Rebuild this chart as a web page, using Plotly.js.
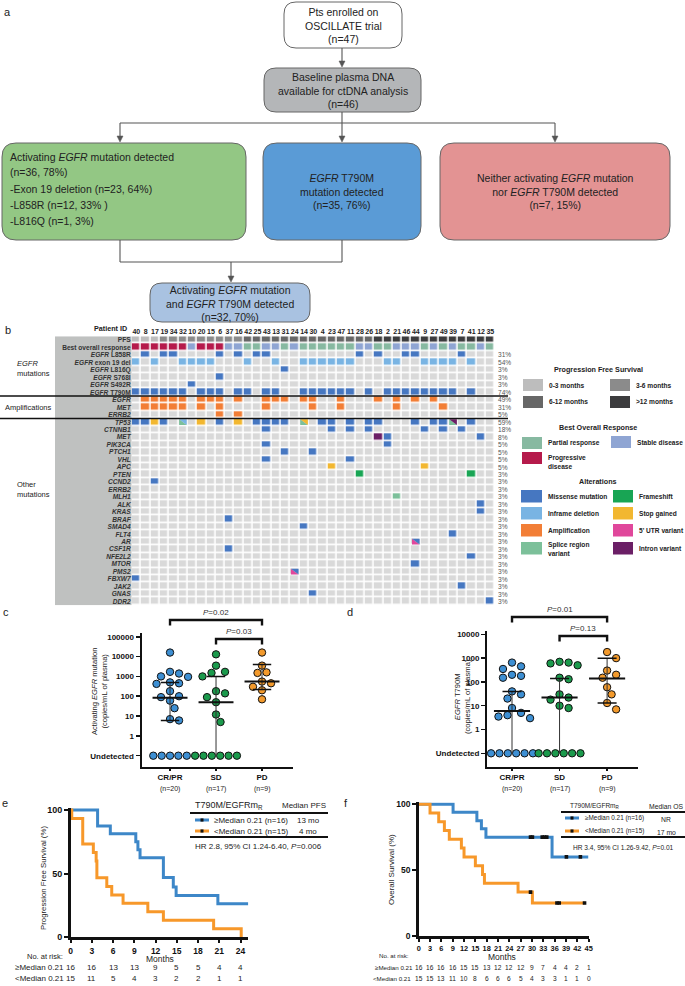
<!DOCTYPE html>
<html><head><meta charset="utf-8">
<script src="https://cdn.plot.ly/plotly-3.0.1.min.js"></script>
<style>html,body{margin:0;padding:0;background:#fff}</style>
</head><body><div id="chart" style="width:685px;height:986px"></div>
<script>
// ================= DATA =================
// --- panel a: flowchart texts ---
const flowBox1 = ["Pts enrolled on", "OSCILLATE trial", "(n=47)"];
const flowBox2 = ["Baseline plasma DNA", "available for ctDNA analysis", "(n=46)"];
const flowBox3 = ["Activating <i>EGFR</i> mutation detected", "(n=36, 78%)", "-Exon 19 deletion (n=23, 64%)", "-L858R (n=12, 33% )", "-L816Q (n=1, 3%)"];
const flowBox4 = ["<i>EGFR</i> T790M", "mutation detected", "(n=35, 76%)"];
const flowBox5 = ["Neither activating <i>EGFR</i> mutation", "nor <i>EGFR</i> T790M detected", "(n=7, 15%)"];
const flowBox6 = ["Activating <i>EGFR</i> mutation", "and <i>EGFR</i> T790M detected", "(n=32, 70%)"];

// --- panel b: oncoprint ---
const patientIds = [40,8,17,19,34,32,10,20,15,6,37,16,42,25,43,13,31,24,14,30,4,23,47,11,28,26,18,2,21,46,44,9,27,49,39,7,41,12,35];
const pfs0to3 = [40,8,17];
const pfs3to6 = [19,34,32,10,20,15,6,37,16];
const pfs6to12 = [42,25,43,13,31,24,14,30,4,23,47,11,28,26];
const pfsOver12 = [18,2,21,46,44,9,27,49,39,7,41,12,35];
const borPD = [40,8,17,19,34,32,20,15,6];
const borSD = [10,37,16,43,13,24,28,26,21,46,44,27,39,12];
const borPR = [42,25,31,14,30,4,23,47,11,18,2,9,49,7,41,35];

const egfrMutRows = ["L858R","exon 19 del","L816Q","S768I","S492R","T790M"];
const egfrMutTypes = ["missense","inframe","missense","missense","missense","missense"];
const egfrL858R = [8,19,34,6,16,25,43,28,18,46,44,7];
const egfrExon19 = [40,17,32,10,20,15,42,13,14,30,4,23,47,11,2,21,9,27,49,39,41];
const egfrL816Q = [31];
const egfrS768I = [6];
const egfrS492R = [10];
const egfrT790M = [40,8,17,19,34,32,20,15,6,16,42,43,13,14,30,4,23,47,11,26,2,21,46,44,9,27,49,39,41];

const ampRows = ["EGFR","MET","ERRB2"];
const ampEGFR = [8,17,19,34,32,20,15,6,16,43,13,31,14,30,47,18,21,44,27];
const ampMET = [8,17,19,34,32,20,6,43,30,47,21,49];
const ampERRB2 = [6,16];

const otherRows = ["TP53","CTNNB1","MET","PIK3CA","PTCH1","VHL","APC","PTEN","CCND2","ERRB2","MLH1","ALK","KRAS","BRAF","SMAD4","FLT4","AR","CSF1R","NFE2L2","MTOR","PMS2","FBXW7","JAK2","GNAS","DDR2"];
const otherMissense = [
  [40,8,19,6,25,43,13,31,4,23,11,26,18,44,27,49,41], // TP53
  [43,23,11,26,9,49,7],  // CTNNB1
  [2,12],                // MET
  [43,2],                // PIK3CA
  [31,30],               // PTCH1
  [43,11],               // VHL
  [], [],                // APC, PTEN
  [17],                  // CCND2
  [], [],                // ERRB2, MLH1
  [12], [12], [37], [14], [39], // ALK KRAS BRAF SMAD4 FLT4
  [],                    // AR
  [37], [41], [44],      // CSF1R NFE2L2 MTOR
  [],                    // PMS2
  [40], [7], [30], [35]  // FBXW7 JAK2 GNAS DDR2
];
const stopGained = [["TP53",17],["TP53",20],["TP53",16],["APC",23],["APC",9]];
const frameshift = [["PTEN",28],["PTEN",41]];
const spliceRegion = [["MLH1",21]];
const intronVariant = [["MET",18]];
const splitCells = [["TP53",32,"splice","inframe"],["TP53",14,"splice","stop"],["TP53",39,"splice","intron"],["AR",44,"utr","missense"],["PMS2",24,"utr","missense"]];
const percentLabels = ["31%","54%","3%","3%","3%","74%","49%","31%","5%","59%","18%","8%","5%","5%","5%","5%","3%",
  "3%","3%","3%","3%","3%","3%","3%","3%","3%","3%","3%","3%","3%","3%","3%","3%","3%"];

const pfsLegendLabels = ["0-3 months","3-6 months","6-12 months",">12 months"];
const borLegendLabels = ["Partial response","Stable disease","Progressive<br>disease"];
const altLegendLeft = ["Missense mutation","Inframe deletion","Amplification","Splice region<br>variant"];
const altLegendRight = ["Frameshift","Stop gained","5' UTR variant","Intron variant"];

// --- panels c, d (0 = undetected) ---
const groups = ["CR/PR","SD","PD"];
const groupN = ["(n=20)","(n=17)","(n=9)"];
const cCRPR = [16000,1700,1400,1000,950,500,450,420,180,100,90,60,25,7,6,0,0,0,0,0];
const cSD = [13000,3500,1700,1500,1000,180,140,90,50,12,5,0,0,0,0,0,0];
const cPD = [16000,3500,1600,1500,550,450,300,200,70];
const cMedian = [85,50,550], cQ1 = [6,0,220], cQ3 = [500,1000,4000];
const dCRPR = [650,450,350,200,180,150,40,30,20,8,5,4,3.5,3,0,0,0,0,0,0];
const dSD = [700,650,600,500,150,130,30,22,18,10,8,0,0,0,0,0,0];
const dPD = [1800,1000,300,200,150,60,30,13,7];
const dMedian = [6,22,140], dQ1 = [0,0,13], dQ3 = [40,140,1000];
const cTickVals = [0.1,1,10,100,1000,10000,100000];
const cTickText = ["Undetected","1","10","100","1000","10000","100000"];
const dTickVals = [0.1,1,10,100,1000,10000];
const dTickText = ["Undetected","1","10","100","1000","10000"];

// --- panels e, f (Kaplan-Meier) ---
const pfsHighT = [0,3.8,5.6,9.2,9.5,9.8,13.1,14.5,14.9,20.8,25.1];
const pfsHighS = [100,87.5,81.3,75,68.8,62.5,46.9,39.5,32.8,26.4,26.4];
const pfsLowT = [0,0.15,1.7,3.2,3.6,3.7,5.1,5.8,7.4,10.9,13.1,20.2,24.1];
const pfsLowS = [100,93.3,73.3,66.7,60,46.7,40,33.3,26.7,20,13.3,6.7,0];
const osHighT = [0,9.1,15.4,16.6,17.8,35.3,44.9];
const osHighS = [100,93.8,87.5,81.3,75,60,60];
const osLowT = [0,3.0,5.3,6.8,8.1,11.3,12.0,15.0,16.9,17.4,26.3,30.1,43.9];
const osLowS = [100,93.3,86.7,80,73.3,66.7,60,53.3,46.7,40,33.3,25,25];
const osHighCensT = [29.6,30.1,32.7,33.3,33.9,39.1,42.8];
const osHighCensS = [75,75,75,75,75,60,60];
const osLowCensT = [29.6,36.6,37.2,43.9];
const osLowCensS = [33.3,25,25,25];
const pfsTicks = [0,3,6,9,12,15,18,21,24];
const osTicks = [0,3,6,9,12,15,18,21,24,27,30,33,36,39,42,45];
const pfsRiskHigh = [16,16,13,13,9,5,5,4,4];
const pfsRiskLow = [15,11,5,4,3,2,2,1,1];
const osRiskHigh = [16,16,16,16,15,15,13,12,12,12,9,7,4,4,2,1];
const osRiskLow = [15,15,13,11,10,8,6,6,6,5,4,3,3,1,1,0];
const kmLegendRows = ["\u2265Median 0.21 (n=16)","<Median 0.21 (n=15)"];
const pfsMedians = ["13 mo","4 mo"];
const osMedians = ["NR","17 mo"];

// ================= DRAWING =================
const W = 685, H = 986;
const X = p => p / W, Y = p => 1 - p / H;
const FONT = 'Arial, "Liberation Sans", Helvetica, sans-serif';
const shapes = [], annotations = [], traces = [];

function A(x, y, text, size, o) {
  o = o || {};
  const a = {xref:'paper', yref:'paper', x:X(x), y:Y(y), text:text, showarrow:false,
    font:{family:FONT, size:size, color:o.color || '#222'},
    xanchor:o.xa || 'center', yanchor:o.ya || 'middle', align:o.align || 'center'};
  if (o.angle !== undefined) a.textangle = o.angle;
  if (o.xref) { a.xref = o.xref; a.x = o.x; }
  annotations.push(a);
}
function R(x0, y0, x1, y1, fill, lc, lw, layer) {
  shapes.push({type:'rect', xref:'paper', yref:'paper', x0:X(x0), x1:X(x1), y0:Y(y0), y1:Y(y1),
    fillcolor:fill, line:{color:lc || fill, width:lw || 0}, layer:layer || 'above'});
}
function L(x0, y0, x1, y1, c, w, dash) {
  shapes.push({type:'line', xref:'paper', yref:'paper', x0:X(x0), x1:X(x1), y0:Y(y0), y1:Y(y1),
    line:{color:c, width:w, dash:dash || 'solid'}});
}
function RR(x0, y0, x1, y1, r, fill, lc) {
  const rx = r / W, ry = r / H, a = X(x0), b = X(x1), t = Y(y0), u = Y(y1);
  const p = `M ${a+rx},${t} L ${b-rx},${t} Q ${b},${t} ${b},${t-ry} L ${b},${u+ry} Q ${b},${u} ${b-rx},${u} L ${a+rx},${u} Q ${a},${u} ${a},${u+ry} L ${a},${t-ry} Q ${a},${t} ${a+rx},${t} Z`;
  shapes.push({type:'path', xref:'paper', yref:'paper', path:p, fillcolor:fill, line:{color:lc, width:1}});
}
function arrow(x, yHead, len) {
  L(x, yHead - len, x, yHead - 5, '#555', 1.1);
  shapes.push({type:'path', xref:'paper', yref:'paper',
    path:`M ${X(x - 3)},${Y(yHead - 6)} L ${X(x + 3)},${Y(yHead - 6)} L ${X(x)},${Y(yHead)} Z`,
    fillcolor:'#555', line:{color:'#555', width:0.5}});
}

// ---- panel a ----
A(8, 12, 'a', 11);
RR(284, 2, 402, 48, 12, '#ffffff', '#666');
RR(264, 68, 421, 112, 12, '#b4b6b8', '#666');
RR(2, 143, 246, 240, 14, '#93c784', '#666');
RR(263, 143, 421, 240, 14, '#5a9bd6', '#666');
RR(440, 143, 670, 240, 14, '#e39393', '#666');
RR(150, 283, 310, 322, 12, '#a9c2e1', '#666');
A(343, 25.5, flowBox1.join('<br>'), 10.5);
A(343, 90, flowBox2.join('<br>'), 10.5);
[157, 172, 189, 205, 221].forEach((yy, i) => A(8, yy, flowBox3[i], 10.5, {xa:'left'}));
A(342, 191.5, flowBox4.join('<br>'), 10.5);
A(555, 191.5, flowBox5.join('<br>'), 10.5);
A(230, 303, flowBox6.join('<br>'), 10.5);
arrow(342, 67, 19);
L(342, 112, 342, 123, '#555', 1.1);
L(120, 123, 555, 123, '#555', 1.1);
arrow(120, 142, 19); arrow(342, 142, 19); arrow(555, 142, 19);
L(120, 240, 120, 262, '#555', 1.1);
L(342, 240, 342, 262, '#555', 1.1);
L(120, 262, 342, 262, '#555', 1.1);
arrow(231, 282, 20);

// ---- panel b ----
A(8, 330, 'b', 11);
const codeColors = ['#d9d9d9','#bdbdbd','#8b8b8b','#676767','#3c3c3e','#87b9a1','#8fa5d3','#b51a4b',
  '#4677c1','#79b4e3','#f27e36','#7cc09a','#18a554','#f2b730','#e0479b','#6b1f66'];
const code = {none:0,pfs03:1,pfs36:2,pfs612:3,pfs12:4,pr:5,sd:6,pd:7,missense:8,inframe:9,amp:10,splice:11,frameshift:12,stop:13,utr:14,intron:15};
const nCols = patientIds.length;
const nRows = 2 + egfrMutRows.length + ampRows.length + otherRows.length;
const col = id => patientIds.indexOf(id);
const z = [];
for (let r = 0; r < nRows; r++) z.push(new Array(nCols).fill(0));
const setCells = (r, ids, c) => ids.forEach(id => { z[r][col(id)] = c; });
setCells(0, pfs0to3, code.pfs03); setCells(0, pfs3to6, code.pfs36);
setCells(0, pfs6to12, code.pfs612); setCells(0, pfsOver12, code.pfs12);
setCells(1, borPR, code.pr); setCells(1, borSD, code.sd); setCells(1, borPD, code.pd);
[egfrL858R, egfrExon19, egfrL816Q, egfrS768I, egfrS492R, egfrT790M].forEach((ids, i) => setCells(2 + i, ids, code[egfrMutTypes[i]]));
[ampEGFR, ampMET, ampERRB2].forEach((ids, i) => setCells(8 + i, ids, code.amp));
const oRow = g => 11 + otherRows.indexOf(g);
otherMissense.forEach((ids, i) => setCells(11 + i, ids, code.missense));
stopGained.forEach(([g, id]) => { z[oRow(g)][col(id)] = code.stop; });
frameshift.forEach(([g, id]) => { z[oRow(g)][col(id)] = code.frameshift; });
spliceRegion.forEach(([g, id]) => { z[oRow(g)][col(id)] = code.splice; });
intronVariant.forEach(([g, id]) => { z[oRow(g)][col(id)] = code.intron; });

const cs = [];
codeColors.forEach((c, i) => { cs.push([i / 16, c]); cs.push([(i + 1) / 16, c]); });
traces.push({type:'heatmap', z:z, x:[...Array(nCols).keys()], y:[...Array(nRows).keys()],
  colorscale:cs, zmin:-0.5, zmax:15.5, showscale:false, xgap:1.6, ygap:1.6, hoverinfo:'skip', xaxis:'x', yaxis:'y'});

// split cells as two triangles in data coordinates
const gx = 0.09, gy = 0.11;
splitCells.forEach(([g, id, lo, up]) => {
  const r = oRow(g), c = col(id);
  const x0 = c - 0.5 + gx, x1 = c + 0.5 - gx, yt = r - 0.5 + gy, yb = r + 0.5 - gy;
  shapes.push({type:'path', xref:'x', yref:'y', path:`M ${x0},${yt} L ${x0},${yb} L ${x1},${yb} Z`, fillcolor:codeColors[code[lo]], line:{width:0}});
  shapes.push({type:'path', xref:'x', yref:'y', path:`M ${x0},${yt} L ${x1},${yt} L ${x1},${yb} Z`, fillcolor:codeColors[code[up]], line:{width:0}});
});

const rowHtml = ['<b>PFS</b>', '<b>Best overall response</b>']
  .concat(egfrMutRows.map(s => '<b><i>EGFR</i> ' + s + '</b>'))
  .concat(ampRows.map(s => '<b><i>' + s + '</i></b>'))
  .concat(otherRows.map(s => '<b><i>' + s + '</i></b>'));

// gray label column
shapes.push({type:'rect', xref:'paper', yref:'y', x0:X(55), x1:X(131.5), y0:-0.5, y1:nRows - 0.5, fillcolor:'#bfc1c0', line:{width:0}, layer:'below'});
// separator lines
[7.5, 10.5].forEach(yy => shapes.push({type:'line', xref:'paper', yref:'y', x0:0, x1:X(508), y0:yy, y1:yy, line:{color:'#111', width:1.4}}));
// percentages
percentLabels.forEach((p, i) => annotations.push({xref:'paper', yref:'y', x:X(496), y:2 + i, text:p, showarrow:false,
  xanchor:'left', yanchor:'middle', font:{family:FONT, size:6.6, color:'#555'}}));
A(129, 328, '<b>Patient ID</b>', 7.2, {xa:'right'});
A(15, 369, '<i>EGFR</i><br>mutations', 7.5, {xa:'left', align:'left'});
A(3, 407, 'Amplifications', 7.5, {xa:'left'});
A(15, 489, 'Other<br>mutations', 7.5, {xa:'left', align:'left'});

// legend panel b
const LF = 6.6;
A(598, 370, '<b>Progression Free Survival</b>', 7.2);
[[523,379,0],[610,379,1],[523,396,2],[610,396,3]].forEach(([x, y, i]) => {
  R(x, y, x + 20, y + 12, codeColors[1 + i]);
  A(x + 24, y + 6, '<b>' + pfsLegendLabels[i] + '</b>', LF, {xa:'left'});
});
A(598, 428, '<b>Best Overall Response</b>', 7.2);
[[522,437,code.pr],[611,436,code.sd],[522,452,code.pd]].forEach(([x, y, c], i) => {
  R(x, y, x + 20, y + 12, codeColors[c]);
  A(x + 24, i === 2 ? y + 10 : y + 6, '<b>' + borLegendLabels[i] + '</b>', LF, {xa:'left', align:'left'});
});
A(598, 481, '<b>Alterations</b>', 7.2);
const altLeftCodes = [code.missense, code.inframe, code.amp, code.splice];
const altRightCodes = [code.frameshift, code.stop, code.utr, code.intron];
[490, 507, 524, 542].forEach((y, i) => {
  R(521, y, 542, y + 12.5, codeColors[altLeftCodes[i]]);
  A(546, y + 6.5, '<b>' + altLegendLeft[i] + '</b>', LF, {xa:'left', align:'left'});
  R(613, y, 633, y + 12.5, codeColors[altRightCodes[i]]);
  A(637, y + 6.5, '<b>' + altLegendRight[i] + '</b>', LF, {xa:'left', align:'left'});
});

// ---- panels c, d ----
const dotColors = ['#3d8fd3', '#1b9a4c', '#f39a2c'];
function swarm(vals, g, pxX, pxDec, diam) {
  const det = vals.filter(v => v > 0).sort((a, b) => b - a);
  const nU = vals.length - det.length;
  const pts = [], xs = [], ys = [];
  det.forEach(v => {
    const yp = Math.log10(v) * pxDec;
    let chosen = 0;
    for (let k = 0; k < 40; k++) {
      const m = Math.ceil(k / 2) * (k % 2 ? 1 : -1);
      const off = m * diam * 0.55;
      if (pts.every(p => Math.hypot(p[0] - off, p[1] - yp) >= diam * 0.98)) { chosen = off; break; }
    }
    pts.push([chosen, yp]); xs.push(g + chosen / pxX); ys.push(v);
  });
  for (let i = 0; i < nU; i++) { xs.push(g + (i - (nU - 1) / 2) * diam * 1.02 / pxX); ys.push(0.1); }
  return {xs, ys};
}
function dotPanel(sets, med, q1, q3, xa, ya, pxX, pxDec) {
  sets.forEach((vals, g) => {
    const s = swarm(vals, g, pxX, pxDec, 8.2);
    traces.push({type:'scatter', mode:'markers', x:s.xs, y:s.ys, xaxis:xa, yaxis:ya, cliponaxis:false,
      marker:{size:7.4, color:dotColors[g], line:{color:'#111', width:1}}, hoverinfo:'skip'});
  });
  sets.forEach((vals, g) => {
    const lo = q1[g] > 0 ? q1[g] : 0.1;
    traces.push({type:'scatter', mode:'lines', x:[g, g], y:[lo, q3[g]], xaxis:xa, yaxis:ya, line:{color:'#333', width:1}, hoverinfo:'skip'});
    traces.push({type:'scatter', mode:'lines', x:[g - 0.2, g + 0.2], y:[q3[g], q3[g]], xaxis:xa, yaxis:ya, line:{color:'#111', width:1.5}, hoverinfo:'skip'});
    if (q1[g] > 0) traces.push({type:'scatter', mode:'lines', x:[g - 0.2, g + 0.2], y:[q1[g], q1[g]], xaxis:xa, yaxis:ya, line:{color:'#111', width:1.5}, hoverinfo:'skip'});
    traces.push({type:'scatter', mode:'lines', x:[g - 0.38, g + 0.38], y:[med[g], med[g]], xaxis:xa, yaxis:ya, line:{color:'#111', width:2}, hoverinfo:'skip'});
  });
}
dotPanel([cCRPR, cSD, cPD], cMedian, cQ1, cQ3, 'x2', 'y2', 46, 19.8);
dotPanel([dCRPR, dSD, dPD], dMedian, dQ1, dQ3, 'x3', 'y3', 47.5, 23.8);
['x2', 'x3'].forEach((xa, k) => {
  shapes.push({type:'line', xref:xa + ' domain', yref:k ? 'y3' : 'y2', x0:0, x1:1, y0:-1, y1:-1, line:{color:'#111', width:1.4, dash:'dot'}, layer:'below'});
  groupN.forEach((t, g) => A(0, 789, t, 7, {xref:xa, x:g}));
});
function bracket(xa, g0, g1, yPx, label) {
  shapes.push({type:'path', xref:xa, yref:'paper', path:`M ${g0},${Y(yPx + 5.5)} L ${g0},${Y(yPx)} L ${g1},${Y(yPx)} L ${g1},${Y(yPx + 5.5)}`, line:{color:'#111', width:2.4}});
  A(0, yPx - 8, '<i>P</i>=' + label, 8, {xref:xa, x:(g0 + g1) / 2, color:'#333'});
}
bracket('x2', 0, 2, 620, '0.02');
bracket('x2', 1, 2, 639, '0.03');
bracket('x3', 0, 2, 617, '0.01');
bracket('x3', 1, 2, 636, '0.13');
A(6, 612, 'c', 11);
A(350, 612, 'd', 11);
A(99, 692, 'Activating <i>EGFR</i> mutation<br>(copies/mL of plasma)', 7.6, {angle:-90});
A(462, 697, '<i>EGFR</i> T790M<br>(copies/mL of plasma)', 7.6, {angle:-90});

// ---- panels e, f ----
const kmBlue = '#3d87c8', kmOrange = '#f7982a';
traces.push({type:'scatter', mode:'lines', x:pfsHighT, y:pfsHighS, xaxis:'x4', yaxis:'y4', line:{shape:'hv', color:kmBlue, width:3}, hoverinfo:'skip'});
traces.push({type:'scatter', mode:'lines', x:pfsLowT, y:pfsLowS, xaxis:'x4', yaxis:'y4', line:{shape:'hv', color:kmOrange, width:3}, hoverinfo:'skip'});
traces.push({type:'scatter', mode:'lines', x:osHighT, y:osHighS, xaxis:'x5', yaxis:'y5', line:{shape:'hv', color:kmBlue, width:3}, hoverinfo:'skip'});
traces.push({type:'scatter', mode:'lines', x:osLowT, y:osLowS, xaxis:'x5', yaxis:'y5', line:{shape:'hv', color:kmOrange, width:3}, hoverinfo:'skip'});
traces.push({type:'scatter', mode:'markers', x:osHighCensT, y:osHighCensS, xaxis:'x5', yaxis:'y5', marker:{symbol:'square', size:3.6, color:'#111'}, hoverinfo:'skip'});
traces.push({type:'scatter', mode:'markers', x:osLowCensT, y:osLowCensS, xaxis:'x5', yaxis:'y5', marker:{symbol:'square', size:3.6, color:'#111'}, hoverinfo:'skip'});

A(5, 803, 'e', 11);
A(346, 803, 'f', 11);
A(43, 878, 'Progression Free Survival (%)', 7.8, {angle:-90});
A(391, 870, 'Overall Survival (%)', 8, {angle:-90});
A(160, 959, 'Months', 8.5);
A(502, 957, 'Months', 8.5);
// e legend
A(229, 805, 'T790M/EGFRm<sub>R</sub>', 9);
A(304, 805, 'Median PFS', 8);
L(190, 813, 328, 813, '#111', 2.2); L(190, 837, 328, 837, '#111', 2.2);
[[820, kmBlue], [831, kmOrange]].forEach(([y, c], i) => {
  L(195, y, 209, y, c, 3); R(200.5, y - 1.6, 203.5, y + 1.6, '#111');
  A(212, y, kmLegendRows[i], 8, {xa:'left'});
  A(308, y, pfsMedians[i], 8);
});
A(258, 846, 'HR 2.8, 95% CI 1.24-6.40, <i>P</i>=0.006', 8);
// f legend
A(595, 806, 'T790M/EGFRm<sub>R</sub>', 6.5);
A(666, 806, 'Median OS', 6.8);
L(561, 812, 685, 812, '#111', 2.2); L(561, 837, 685, 837, '#111', 2.2);
[[818, kmBlue], [831, kmOrange]].forEach(([y, c], i) => {
  L(565, y, 579, y, c, 3); R(570.5, y - 1.6, 573.5, y + 1.6, '#111');
  A(583, y, kmLegendRows[i], 6.4, {xa:'left'});
  A(666, y + 1, osMedians[i], 6.8);
});
A(623, 847, 'HR 3.4, 95% CI 1.26-9.42, <i>P</i>=0.01', 6.6);
// at-risk tables
A(25, 956, 'No. at risk:', 7.5, {xa:'left'});
A(13, 967, '\u2265Median 0.21', 8, {xa:'left'});
A(13, 978, '<Median 0.21', 8, {xa:'left'});
pfsTicks.forEach((t, i) => { A(0, 967, String(pfsRiskHigh[i]), 8, {xref:'x4', x:t}); A(0, 978, String(pfsRiskLow[i]), 8, {xref:'x4', x:t}); });
A(377, 955, 'No. at risk:', 6.2, {xa:'left'});
A(373, 967, '\u2265Median 0.21', 6.2, {xa:'left'});
A(371, 978, '<Median 0.21', 6.2, {xa:'left'});
osTicks.forEach((t, i) => { A(0, 967, String(osRiskHigh[i]), 6.6, {xref:'x5', x:t}); A(0, 978, String(osRiskLow[i]), 6.6, {xref:'x5', x:t}); });

// ================= LAYOUT =================
const bold = a => a.map(v => '<b>' + v + '</b>');
const base = {showgrid:false, zeroline:false, automargin:false, fixedrange:true};
function dotAxisX(dom, rng, anchor) {
  return Object.assign({}, base, {domain:dom, range:rng, anchor:anchor, tickvals:[0,1,2], ticktext:bold(groups),
    tickfont:{family:FONT, size:8, color:'#111'}, showline:true, linewidth:2, linecolor:'#111', ticks:'outside', ticklen:2, tickwidth:1.5, tickcolor:'#111'});
}
function dotAxisY(dom, rng, anchor, tv, tt) {
  return Object.assign({}, base, {type:'log', domain:dom, range:rng, anchor:anchor, tickvals:tv, ticktext:bold(tt),
    tickfont:{family:FONT, size:8, color:'#111'}, showline:true, linewidth:2, linecolor:'#111', ticks:'outside', ticklen:4, tickwidth:1.5, tickcolor:'#111'});
}
function kmAxisX(dom, rng, anchor, tv, fs) {
  return Object.assign({}, base, {domain:dom, range:rng, anchor:anchor, tickvals:tv, ticktext:bold(tv), tickangle:0,
    tickfont:{family:FONT, size:fs, color:'#111'}, showline:true, linewidth:2.6, linecolor:'#111', ticks:'outside', ticklen:3.5, tickwidth:2, tickcolor:'#111'});
}
function kmAxisY(dom, anchor, fs) {
  return Object.assign({}, base, {domain:dom, range:[0, 101.5], anchor:anchor, tickvals:[0,50,100], ticktext:bold([0,50,100]),
    tickfont:{family:FONT, size:fs, color:'#111'}, showline:true, linewidth:2.6, linecolor:'#111', ticks:'outside', ticklen:4, tickwidth:2, tickcolor:'#111'});
}

const layout = {
  width:W, height:H, margin:{l:0, r:0, t:0, b:0}, paper_bgcolor:'#fff', plot_bgcolor:'#fff', showlegend:false,
  font:{family:FONT, color:'#222'},
  xaxis:Object.assign({}, base, {domain:[X(131.7), X(495)], range:[-0.5, nCols - 0.5], anchor:'y', side:'top', tickangle:0,
    tickvals:[...Array(nCols).keys()], ticktext:bold(patientIds), tickfont:{family:FONT, size:7, color:'#222'}, ticks:'', showline:false}),
  yaxis:Object.assign({}, base, {domain:[Y(605.2), Y(336.3)], range:[nRows - 0.5, -0.5], anchor:'x',
    tickvals:[...Array(nRows).keys()], ticktext:rowHtml, tickfont:{family:FONT, size:6.6, color:'#333'}, ticks:'', showline:false}),
  xaxis2:dotAxisX([X(141.5), X(292.6)], [-0.62, 2.665], 'y2'),
  yaxis2:dotAxisY([Y(766.7), Y(633)], [-1.555, 5.19], 'x2', cTickVals, cTickText),
  xaxis3:dotAxisX([X(487), X(638)], [-0.526, 2.65], 'y3'),
  yaxis3:dotAxisY([Y(766.7), Y(631)], [-1.563, 4.14], 'x3', dTickVals, dTickText),
  xaxis4:kmAxisX([X(70.7), X(248.3)], [0, 25.1], 'y4', pfsTicks, 8.5),
  yaxis4:kmAxisY([Y(937.3), Y(808.1)], 'x4', 9),
  xaxis5:kmAxisX([X(418.7), X(588.7)], [0, 45], 'y5', osTicks, 7.4),
  yaxis5:kmAxisY([Y(936), Y(802.2)], 'x5', 8.5),
  shapes:shapes, annotations:annotations
};
Plotly.newPlot('chart', traces, layout, {staticPlot:true, displayModeBar:false});
</script></body></html>
